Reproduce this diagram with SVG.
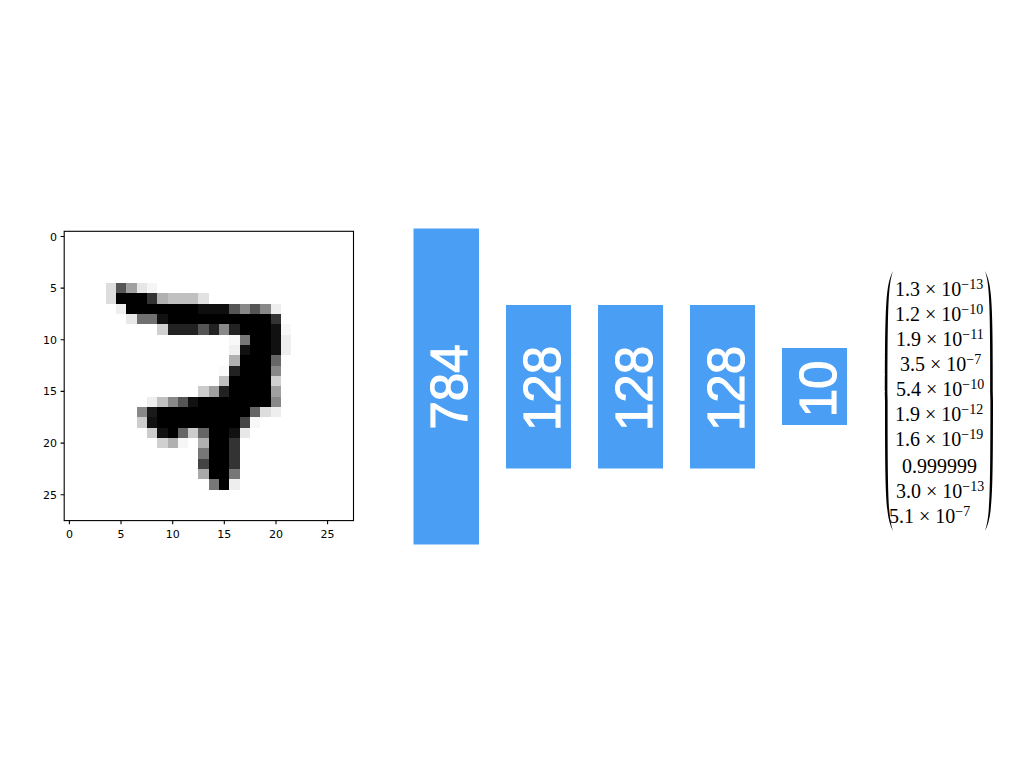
<svg xmlns="http://www.w3.org/2000/svg" width="1024" height="768" viewBox="0 0 1024 768">
<style>
.tick{font-family:"DejaVu Sans",sans-serif;font-size:11px;fill:#000}
.box{fill:#4a9ff5}
.lbl{font-family:"Liberation Sans",Arial,sans-serif;font-size:51px;fill:#fff;stroke:#fff;stroke-width:1.1px;text-anchor:middle}
.vec{font-family:"Liberation Serif","Times New Roman",serif;font-size:20px;fill:#000}
.sup{font-size:14px}
</style>
<rect width="1024" height="768" fill="#fff"/>
<g id="input-image">
<g transform="translate(64.2,231.3) scale(10.33)" shape-rendering="crispEdges">
<rect x="4" y="5" width="1" height="1" fill="#ddd"/><rect x="5" y="5" width="1" height="1" fill="#555"/><rect x="6" y="5" width="1" height="1" fill="#a0a0a0"/><rect x="7" y="5" width="1" height="1" fill="#e6e6e6"/><rect x="8" y="5" width="1" height="1" fill="#f5f5f5"/>
<rect x="4" y="6" width="1" height="1" fill="#ddd"/><rect x="5" y="6" width="3" height="1" fill="#000"/><rect x="8" y="6" width="1" height="1" fill="#333"/><rect x="9" y="6" width="1" height="1" fill="#b0b0b0"/><rect x="10" y="6" width="3" height="1" fill="#c0c0c0"/><rect x="13" y="6" width="1" height="1" fill="#e2e2e2"/>
<rect x="5" y="7" width="1" height="1" fill="#eee"/><rect x="6" y="7" width="7" height="1" fill="#000"/><rect x="13" y="7" width="3" height="1" fill="#0e0e0e"/><rect x="16" y="7" width="1" height="1" fill="#555"/><rect x="17" y="7" width="1" height="1" fill="#888"/><rect x="18" y="7" width="1" height="1" fill="#555"/><rect x="19" y="7" width="1" height="1" fill="#888"/><rect x="20" y="7" width="1" height="1" fill="#eee"/>
<rect x="6" y="8" width="1" height="1" fill="#e8e8e8"/><rect x="7" y="8" width="2" height="1" fill="#707070"/><rect x="9" y="8" width="1" height="1" fill="#111"/><rect x="10" y="8" width="10" height="1" fill="#000"/><rect x="20" y="8" width="1" height="1" fill="#333"/>
<rect x="9" y="9" width="1" height="1" fill="#d0d0d0"/><rect x="10" y="9" width="3" height="1" fill="#222"/><rect x="13" y="9" width="1" height="1" fill="#555"/><rect x="14" y="9" width="1" height="1" fill="#222"/><rect x="15" y="9" width="1" height="1" fill="#888"/><rect x="16" y="9" width="1" height="1" fill="#222"/><rect x="17" y="9" width="3" height="1" fill="#000"/><rect x="20" y="9" width="1" height="1" fill="#111"/><rect x="21" y="9" width="1" height="1" fill="#f8f8f8"/>
<rect x="16" y="10" width="1" height="1" fill="#f8f8f8"/><rect x="17" y="10" width="1" height="1" fill="#777"/><rect x="18" y="10" width="2" height="1" fill="#000"/><rect x="20" y="10" width="1" height="1" fill="#111"/><rect x="21" y="10" width="1" height="1" fill="#eee"/>
<rect x="16" y="11" width="1" height="1" fill="#f0f0f0"/><rect x="17" y="11" width="1" height="1" fill="#111"/><rect x="18" y="11" width="2" height="1" fill="#000"/><rect x="20" y="11" width="1" height="1" fill="#111"/><rect x="21" y="11" width="1" height="1" fill="#eee"/>
<rect x="16" y="12" width="1" height="1" fill="#b0b0b0"/><rect x="17" y="12" width="3" height="1" fill="#000"/><rect x="20" y="12" width="1" height="1" fill="#666"/>
<rect x="15" y="13" width="1" height="1" fill="#fafafa"/><rect x="16" y="13" width="1" height="1" fill="#222"/><rect x="17" y="13" width="3" height="1" fill="#000"/><rect x="20" y="13" width="1" height="1" fill="#888"/>
<rect x="15" y="14" width="1" height="1" fill="#c0c0c0"/><rect x="16" y="14" width="4" height="1" fill="#000"/><rect x="20" y="14" width="1" height="1" fill="#d0d0d0"/>
<rect x="13" y="15" width="1" height="1" fill="#ccc"/><rect x="14" y="15" width="1" height="1" fill="#a0a0a0"/><rect x="15" y="15" width="1" height="1" fill="#222"/><rect x="16" y="15" width="4" height="1" fill="#000"/><rect x="20" y="15" width="1" height="1" fill="#a0a0a0"/>
<rect x="8" y="16" width="1" height="1" fill="#eee"/><rect x="9" y="16" width="1" height="1" fill="#c0c0c0"/><rect x="10" y="16" width="1" height="1" fill="#888"/><rect x="11" y="16" width="1" height="1" fill="#555"/><rect x="12" y="16" width="1" height="1" fill="#111"/><rect x="13" y="16" width="7" height="1" fill="#000"/><rect x="20" y="16" width="1" height="1" fill="#888"/>
<rect x="7" y="17" width="1" height="1" fill="#888"/><rect x="8" y="17" width="1" height="1" fill="#1a1a1a"/><rect x="9" y="17" width="9" height="1" fill="#000"/><rect x="18" y="17" width="1" height="1" fill="#666"/><rect x="19" y="17" width="1" height="1" fill="#ddd"/><rect x="20" y="17" width="1" height="1" fill="#eee"/>
<rect x="7" y="18" width="1" height="1" fill="#ccc"/><rect x="8" y="18" width="1" height="1" fill="#111"/><rect x="9" y="18" width="8" height="1" fill="#000"/><rect x="17" y="18" width="1" height="1" fill="#444"/><rect x="18" y="18" width="1" height="1" fill="#f8f8f8"/>
<rect x="8" y="19" width="1" height="1" fill="#ccc"/><rect x="9" y="19" width="1" height="1" fill="#111"/><rect x="10" y="19" width="1" height="1" fill="#000"/><rect x="11" y="19" width="1" height="1" fill="#666"/><rect x="12" y="19" width="1" height="1" fill="#ccc"/><rect x="13" y="19" width="1" height="1" fill="#666"/><rect x="14" y="19" width="2" height="1" fill="#000"/><rect x="16" y="19" width="1" height="1" fill="#111"/><rect x="17" y="19" width="1" height="1" fill="#e8e8e8"/>
<rect x="9" y="20" width="1" height="1" fill="#d0d0d0"/><rect x="10" y="20" width="1" height="1" fill="#b0b0b0"/><rect x="11" y="20" width="1" height="1" fill="#f6f6f6"/><rect x="13" y="20" width="1" height="1" fill="#b0b0b0"/><rect x="14" y="20" width="2" height="1" fill="#000"/><rect x="16" y="20" width="1" height="1" fill="#333"/>
<rect x="13" y="21" width="1" height="1" fill="#777"/><rect x="14" y="21" width="2" height="1" fill="#000"/><rect x="16" y="21" width="1" height="1" fill="#333"/>
<rect x="13" y="22" width="1" height="1" fill="#444"/><rect x="14" y="22" width="2" height="1" fill="#000"/><rect x="16" y="22" width="1" height="1" fill="#333"/>
<rect x="13" y="23" width="1" height="1" fill="#aaa"/><rect x="14" y="23" width="2" height="1" fill="#000"/><rect x="16" y="23" width="1" height="1" fill="#777"/>
<rect x="14" y="24" width="1" height="1" fill="#777"/><rect x="15" y="24" width="1" height="1" fill="#000"/><rect x="16" y="24" width="1" height="1" fill="#eee"/>
</g>
<rect x="64.2" y="231.3" width="289.3" height="289.3" fill="none" stroke="#000" stroke-width="1.1"/>
<g stroke="#000" stroke-width="1.1">
<path d="M69.4 520.6v3.6M121 520.6v3.6M172.7 520.6v3.6M224.3 520.6v3.6M276 520.6v3.6M327.6 520.6v3.6"/>
<path d="M64.2 236.5h-3.6M64.2 288.1h-3.6M64.2 339.8h-3.6M64.2 391.4h-3.6M64.2 443.1h-3.6M64.2 494.7h-3.6"/>
</g>
<g class="tick" text-anchor="middle">
<text x="69.4" y="537.5">0</text><text x="121" y="537.5">5</text><text x="172.7" y="537.5">10</text><text x="224.3" y="537.5">15</text><text x="276" y="537.5">20</text><text x="327.6" y="537.5">25</text>
</g>
<g class="tick" text-anchor="end">
<text x="57" y="240.5">0</text><text x="57" y="292.1">5</text><text x="57" y="343.8">10</text><text x="57" y="395.4">15</text><text x="57" y="447.1">20</text><text x="57" y="498.7">25</text>
</g>
</g>
<g id="layer-784"><rect class="box" x="413.5" y="228.5" width="65.5" height="316"/><text class="lbl" transform="translate(466.5,387) rotate(-90)">784</text></g>
<g id="layer-128a"><rect class="box" x="506" y="305" width="65" height="163.5"/><text class="lbl" transform="translate(560,388.5) rotate(-90)">128</text></g>
<g id="layer-128b"><rect class="box" x="598" y="305" width="65" height="163.5"/><text class="lbl" transform="translate(652,388.5) rotate(-90)">128</text></g>
<g id="layer-128c"><rect class="box" x="690" y="305" width="65" height="163.5"/><text class="lbl" transform="translate(744.3,388.5) rotate(-90)">128</text></g>
<g id="layer-10"><rect class="box" x="782" y="348" width="65" height="77"/><text class="lbl" transform="translate(835.7,389) rotate(-90)">10</text></g>
<g id="output-vector">
<path d="M893 271C886 285 885 300 885 401C885 502 886 517 893 531C888.5 517 887.6 502 887.6 401C887.6 300 888.5 285 893 271Z" fill="#000"/>
<path d="M985 271C992 285 993 300 993 401C993 502 992 517 985 531C989.5 517 990.4 502 990.4 401C990.4 300 989.5 285 985 271Z" fill="#000"/>
<g class="vec">
<text x="895" y="296">1.3 × 10<tspan class="sup" dy="-7">−13</tspan></text>
<text x="895" y="321">1.2 × 10<tspan class="sup" dy="-7">−10</tspan></text>
<text x="896" y="346">1.9 × 10<tspan class="sup" dy="-7">−11</tspan></text>
<text x="900" y="371">3.5 × 10<tspan class="sup" dy="-7">−7</tspan></text>
<text x="896" y="396">5.4 × 10<tspan class="sup" dy="-7">−10</tspan></text>
<text x="895" y="421">1.9 × 10<tspan class="sup" dy="-7">−12</tspan></text>
<text x="895" y="446">1.6 × 10<tspan class="sup" dy="-7">−19</tspan></text>
<text x="902" y="473">0.999999</text>
<text x="896" y="498">3.0 × 10<tspan class="sup" dy="-7">−13</tspan></text>
<text x="889" y="523">5.1 × 10<tspan class="sup" dy="-7">−7</tspan></text>
</g>
</g>
<g id="connectors"/>
</svg>
